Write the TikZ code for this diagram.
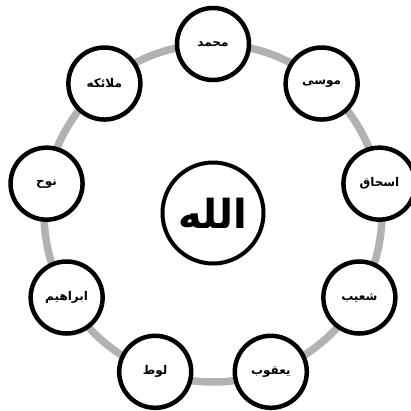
\documentclass[tikz,border=0pt]{standalone}
\usepackage{fontspec}
\newfontfamily\arabicfont[Script=Arabic]{DejaVu Sans}
\TeXXeTstate=1
\definecolor{ringgray}{RGB}{178,178,178}
\begin{document}
\begin{tikzpicture}[x=1pt,y=1pt,
  ring/.style={draw=ringgray, line width=7.5pt},
  prophet/.style={circle, draw=black, line width=4.5pt, fill=white,
    minimum size=72pt, inner sep=0pt,
    font=\arabicfont\bfseries\fontsize{12}{14}\selectfont},
  godnode/.style={circle, draw=black, line width=4pt, fill=white,
    minimum size=101pt, inner sep=0pt,
    font=\arabicfont\bfseries\fontsize{40}{46}\selectfont}]
\useasboundingbox[fill=white] (0,0) rectangle (411,410);
\coordinate (c) at (213,197);
\draw[ring] (c) circle (169);
\node[godnode] (allah) at (c) {\beginR الله\endR};
\foreach \nm/\ang/\txt in {m1/90/محمد, m2/50/موسی, m3/10/اسحاق, m4/-30/شعیب,
  m5/-70/یعقوب, m6/-110/لوط, m7/-150/ابراهیم, m8/170/نوح, m9/130/ملائکه}
  \node[prophet] (\nm) at ([shift={(\ang:169)}]c) {\beginR\txt\endR};
\end{tikzpicture}
\end{document}
